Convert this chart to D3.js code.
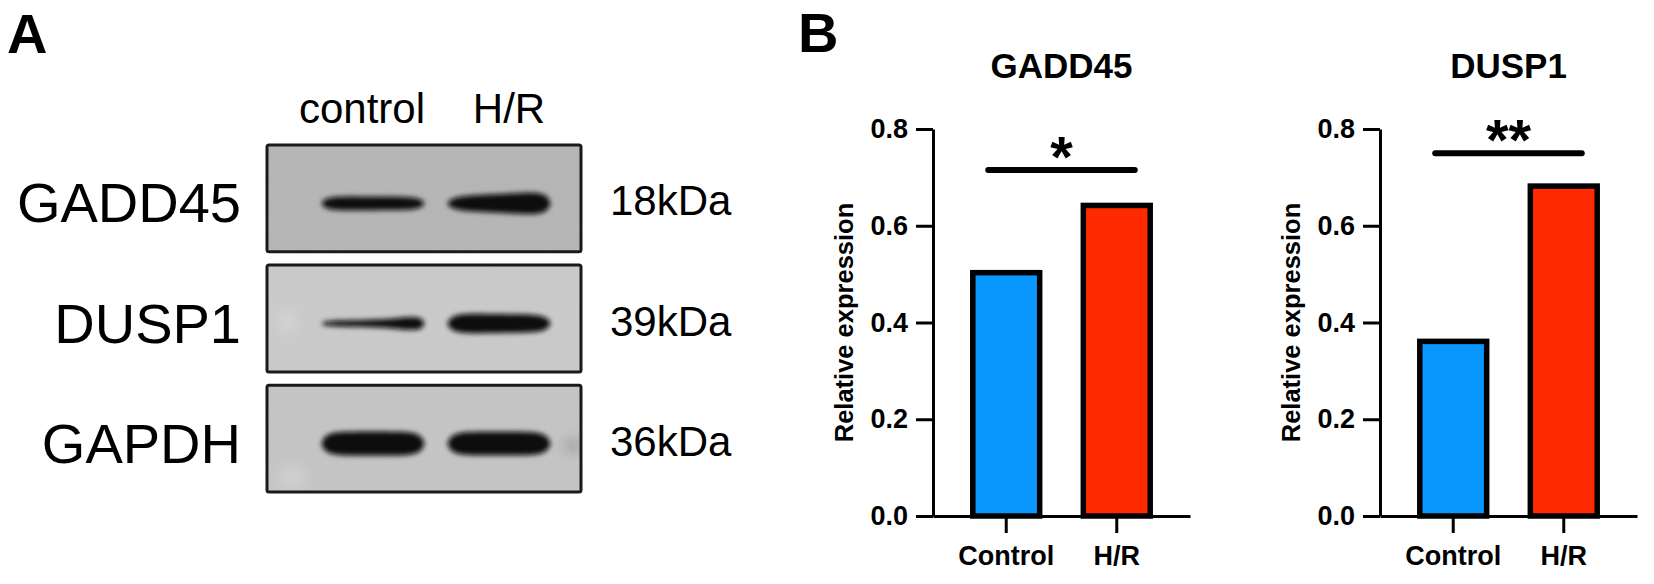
<!DOCTYPE html>
<meta charset="utf-8">

<!-- Load d3.js -->
<script src="https://d3js.org/d3.v7.min.js"></script>

<style>
    body { margin: 0; background: #fff; }
    text { font-family: "Liberation Sans", Arial, sans-serif; }
</style>

<div id="figure">
    <script>
        // ---- panel A : western blot ----
        const lanes = ["control", "H/R"];
        const blotRows = ["GADD45", "DUSP1", "GAPDH"];
        const blotSizes = ["18kDa", "39kDa", "36kDa"];
        // band density (0-1) read at the left and right end of each band, row x lane
        const bandLeft = [[0.50, 0.48], [0.14, 0.78], [0.95, 0.93]];
        const bandRight = [[0.45, 0.95], [0.68, 0.66], [0.95, 0.93]];

        // ---- panel B : bar charts ----
        const groups = ["Control", "H/R"];
        const chartTitles = ["GADD45", "DUSP1"];
        const gaddValues = [0.503, 0.642];
        const duspValues = [0.361, 0.682];
        const yTicks = [0, 0.2, 0.4, 0.6, 0.8];
        const sigLabels = ["*", "**"];
        const sigLevels = [0.715, 0.75];
        const barColors = ["#0a96ff", "#ff2a00"];

        const width = 1654, height = 584;

        const svg = d3.select("#figure")
            .append("svg")
            .attr("width", width)
            .attr("height", height);

        const defs = svg.append("defs");
        defs.append("filter").attr("id", "blur")
            .attr("x", "-20%").attr("y", "-100%").attr("width", "140%").attr("height", "300%")
            .append("feGaussianBlur").attr("stdDeviation", 2.8);
        defs.append("filter").attr("id", "smudge")
            .attr("x", "-100%").attr("y", "-100%").attr("width", "300%").attr("height", "300%")
            .append("feGaussianBlur").attr("stdDeviation", 7);
        // film grain
        const grain = defs.append("filter").attr("id", "grain");
        grain.append("feTurbulence").attr("type", "fractalNoise")
            .attr("baseFrequency", 0.9).attr("numOctaves", 2).attr("seed", 3);
        grain.append("feColorMatrix").attr("type", "saturate").attr("values", 0);

        // panel letters
        svg.append("text").attr("x", 7).attr("y", 53)
            .attr("font-size", 56).attr("font-weight", "bold").text("A");
        svg.append("text").attr("x", 798).attr("y", 52)
            .attr("font-size", 56).attr("font-weight", "bold").text("B");

        // ===== blot =====
        const boxX0 = 267, boxX1 = 581;
        const row = d3.scaleBand().domain(blotRows).range([145, 492]).paddingInner(0.11);
        const lane = d3.scalePoint().domain(lanes).range([boxX0 + 106, boxX0 + 232]);
        const laneLabel = d3.scalePoint().domain(lanes).range([362, 509]);
        const thick = d3.scaleLinear().domain([0, 1]).range([3, 25]);
        const rowFill = ["#b6b6b6", "#cacaca", "#c5c5c5"];
        const bandW = 102;

        svg.append("g").selectAll("text")
            .data(lanes)
            .join("text")
            .attr("x", d => laneLabel(d))
            .attr("y", 123)
            .attr("text-anchor", "middle")
            .attr("font-size", 42)
            .text(d => d);

        function bandPath(x0, x1, cy, t0, t1, ease) {
            const n = 30, top = [], bot = [];
            for (let k = 0; k <= n; k++) {
                const f = k / n;
                const t = t0 + (t1 - t0) * ease(f);
                const r = Math.sqrt(Math.max(0.02, 1 - Math.pow(2 * f - 1, 6)));
                const px = x0 + (x1 - x0) * f;
                top.push([px, cy - t / 2 * r]);
                bot.push([px, cy + t / 2 * r]);
            }
            return d3.line().curve(d3.curveCatmullRomClosed)(top.concat(bot.reverse()));
        }

        blotRows.forEach((name, i) => {
            const y0 = row(name), bh = row.bandwidth(), cy = y0 + bh / 2;
            const clipId = "clip" + i;
            defs.append("clipPath").attr("id", clipId)
                .append("rect").attr("x", boxX0).attr("y", y0).attr("width", boxX1 - boxX0).attr("height", bh);

            const g = svg.append("g");
            g.append("rect")
                .attr("x", boxX0).attr("y", y0)
                .attr("width", boxX1 - boxX0).attr("height", bh)
                .attr("fill", rowFill[i]);

            const inner = g.append("g").attr("clip-path", `url(#${clipId})`);
            inner.append("rect")
                .attr("x", boxX0).attr("y", y0)
                .attr("width", boxX1 - boxX0).attr("height", bh)
                .attr("filter", "url(#grain)")
                .attr("opacity", 0.07);
            if (name === "DUSP1") {
                inner.append("ellipse").attr("cx", boxX0 + 20).attr("cy", cy + 3).attr("rx", 10).attr("ry", 12)
                    .attr("fill", "#d4d4d4").attr("filter", "url(#smudge)");
            }
            if (name === "GAPDH") {
                inner.append("ellipse").attr("cx", boxX0 + 25).attr("cy", y0 + bh - 14).attr("rx", 16).attr("ry", 12)
                    .attr("fill", "#d0d0d0").attr("filter", "url(#smudge)");
                inner.append("ellipse").attr("cx", boxX1 - 8).attr("cy", cy + 7).attr("rx", 8).attr("ry", 5)
                    .attr("fill", "#8a8a8a").attr("filter", "url(#smudge)");
            }

            inner.selectAll("path.band")
                .data(lanes)
                .join("path")
                .attr("class", "band")
                .attr("d", (l, j) => bandPath(
                    lane(l) - bandW / 2, lane(l) + bandW / 2, cy + 5,
                    thick(bandLeft[i][j]), thick(bandRight[i][j]),
                    name === "DUSP1" && j === 0 ? d3.easePolyIn.exponent(3) : d3.easeLinear))
                .attr("fill", "#0a0a0a")
                .attr("filter", "url(#blur)");

            g.append("rect")
                .attr("x", boxX0).attr("y", y0)
                .attr("width", boxX1 - boxX0).attr("height", bh)
                .attr("rx", 2)
                .attr("fill", "none")
                .attr("stroke", "#1a1a1a")
                .attr("stroke-width", 3);

            svg.append("text")
                .attr("x", 241).attr("y", cy + 24)
                .attr("text-anchor", "end")
                .attr("font-size", 56)
                .text(name);
            svg.append("text")
                .attr("x", 610).attr("y", cy + 17)
                .attr("font-size", 42)
                .text(blotSizes[i]);
        });

        // ===== bar charts =====
        const chartValues = [gaddValues, duspValues];
        const axisX = [933, 1380];
        const plotW = 257, yTop = 129, yBottom = 516;

        const y = d3.scaleLinear().domain([0, 0.8]).range([yBottom, yTop]);

        chartTitles.forEach((title, i) => {
            const g = svg.append("g").attr("transform", `translate(${axisX[i]},0)`);
            const x = d3.scaleBand()
                .domain(groups)
                .range([0, plotW])
                .paddingInner(0.395)
                .paddingOuter(0.36);
            const data = groups.map((grp, j) => ({ group: grp, value: chartValues[i][j], color: barColors[j] }));

            // bars
            g.selectAll("rect")
                .data(data)
                .join("rect")
                .attr("x", d => x(d.group))
                .attr("y", d => y(d.value))
                .attr("width", x.bandwidth())
                .attr("height", d => yBottom - y(d.value))
                .attr("fill", d => d.color)
                .attr("stroke", "#000")
                .attr("stroke-width", 5.5);

            // Y axis
            const ya = g.append("g")
                .call(d3.axisLeft(y).tickValues(yTicks).tickSize(17).tickSizeOuter(0)
                    .tickPadding(8).tickFormat(d3.format(".1f")));
            // X axis
            const xa = g.append("g")
                .attr("transform", `translate(0,${yBottom})`)
                .call(d3.axisBottom(x).tickSize(17).tickSizeOuter(0).tickPadding(13));

            [ya, xa].forEach(a => {
                a.select(".domain").attr("stroke", "#000").attr("stroke-width", 3);
                a.selectAll(".tick line").attr("stroke", "#000").attr("stroke-width", 3);
                a.selectAll(".tick text")
                    .attr("fill", "#000")
                    .attr("font-family", "'Liberation Sans', Arial, sans-serif")
                    .attr("font-weight", "bold")
                    .attr("font-size", 27);
            });

            // axis title
            g.append("text")
                .attr("transform", "rotate(-90)")
                .attr("x", -(yTop + yBottom) / 2)
                .attr("y", -80)
                .attr("text-anchor", "middle")
                .attr("font-size", 25.5)
                .attr("font-weight", "bold")
                .text("Relative expression");

            // chart title
            g.append("text")
                .attr("x", plotW / 2)
                .attr("y", 78)
                .attr("text-anchor", "middle")
                .attr("font-size", 35)
                .attr("font-weight", "bold")
                .text(title);

            // significance bar
            const sx0 = x(groups[0]) + x.bandwidth() / 2 - 18;
            const sx1 = x(groups[1]) + x.bandwidth() / 2 + 18;
            g.append("line")
                .attr("x1", sx0).attr("x2", sx1)
                .attr("y1", y(sigLevels[i])).attr("y2", y(sigLevels[i]))
                .attr("stroke", "#000")
                .attr("stroke-width", 6)
                .attr("stroke-linecap", "round");
            g.append("text")
                .attr("x", (sx0 + sx1) / 2)
                .attr("y", y(sigLevels[i]) + 7)
                .attr("text-anchor", "middle")
                .attr("font-size", 58)
                .attr("font-weight", "bold")
                .text(sigLabels[i]);
        });
    </script>
</div>
